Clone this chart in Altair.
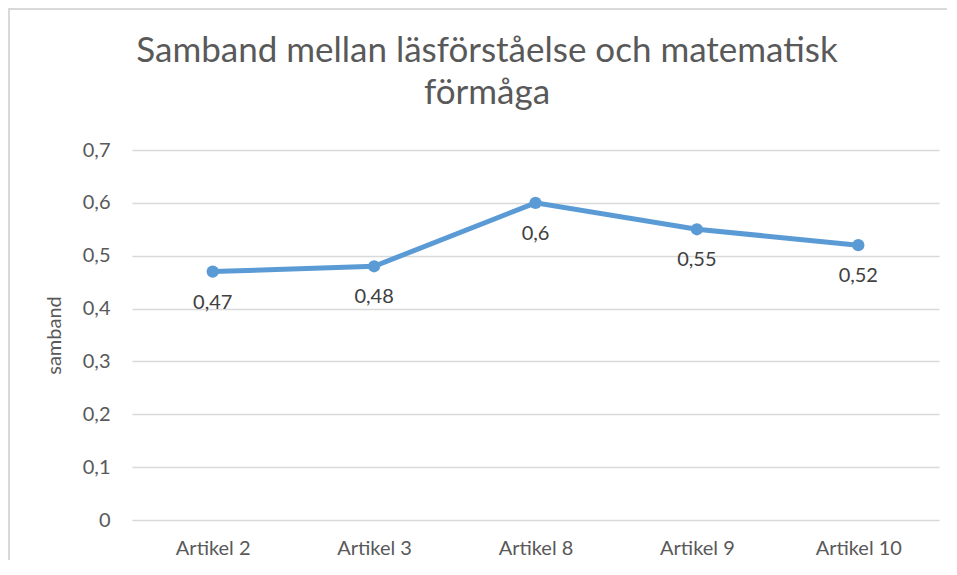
import altair as alt
import pandas as pd

categories = ["Artikel 2", "Artikel 3", "Artikel 8", "Artikel 9", "Artikel 10"]
values = [0.47, 0.48, 0.6, 0.55, 0.52]
y_ticks = [0, 0.1, 0.2, 0.3, 0.4, 0.5, 0.6, 0.7]

title_lines = ["Samband mellan läsförståelse och matematisk", "förmåga"]
y_title = "samband"

df = pd.DataFrame({"artikel": categories, "samband": values})

FONT = "Lato"
W, H = 807, 370

x_enc = alt.X("artikel:N", sort=categories, title=None,
              scale=alt.Scale(type="point", padding=0.5),
              axis=alt.Axis(labelAngle=0, labelFontSize=20, labelColor="#595959",
                            labelFont=FONT, labelPadding=18, ticks=False, domain=False,
                            grid=False))
y_enc = alt.Y("samband:Q", title=y_title,
              scale=alt.Scale(domain=[0, 0.7], nice=False),
              axis=alt.Axis(values=y_ticks, labelFontSize=20, labelColor="#595959",
                            labelFont=FONT, labelPadding=22, ticks=False, domain=False,
                            gridColor="#D9D9D9", gridWidth=1.3,
                            labelExpr="replace(format(datum.value, '~g'), '.', ',')",
                            titleFont=FONT, titleFontSize=20, titleColor="#595959",
                            titleFontWeight="normal", titlePadding=18))

base = alt.Chart(df)

line = base.mark_line(color="#5B9BD5", strokeWidth=5).encode(x=x_enc, y=y_enc)
points = base.mark_point(filled=True, opacity=1, color="#5B9BD5", size=150, shape="circle").encode(
    x=alt.X("artikel:N", sort=categories), y="samband:Q")
labels = base.transform_calculate(
    lab="replace(format(datum.samband, '~g'), '.', ',')"
).mark_text(fontSize=20, font=FONT, color="#404040", dy=31, baseline="middle").encode(
    x=alt.X("artikel:N", sort=categories), y="samband:Q", text="lab:N")

title_df = pd.DataFrame({"line": title_lines, "row": [0, 1]})
title_style = dict(fontSize=35, font=FONT, color="#595959", align="center", baseline="alphabetic")
title1 = alt.Chart(title_df).transform_filter("datum.row == 0").mark_text(**title_style).encode(
    x=alt.value(355), y=alt.value(-88), text="line:N")
title2 = alt.Chart(title_df).transform_filter("datum.row == 1").mark_text(**title_style).encode(
    x=alt.value(355), y=alt.value(-46), text="line:N")

frame_df = pd.DataFrame({"k": [0]})
left_border = alt.Chart(frame_df).mark_rule(color="#D9D9D9", strokeWidth=2).encode(
    x=alt.value(-123), y=alt.value(-142), y2=alt.value(430))
top_border = alt.Chart(frame_df).mark_rule(color="#D9D9D9", strokeWidth=2).encode(
    x=alt.value(-124), x2=alt.value(815), y=alt.value(-141))

chart = alt.layer(left_border, top_border, line, points, labels, title1, title2).properties(
    width=W, height=H,
    autosize=alt.AutoSizeParams(type="none"),
    padding={"left": 124, "top": 142, "right": 10, "bottom": 40},
).configure(background="white").configure_view(stroke=None)

chart.save("out.html", embed_options={"renderer": "svg", "actions": False})
